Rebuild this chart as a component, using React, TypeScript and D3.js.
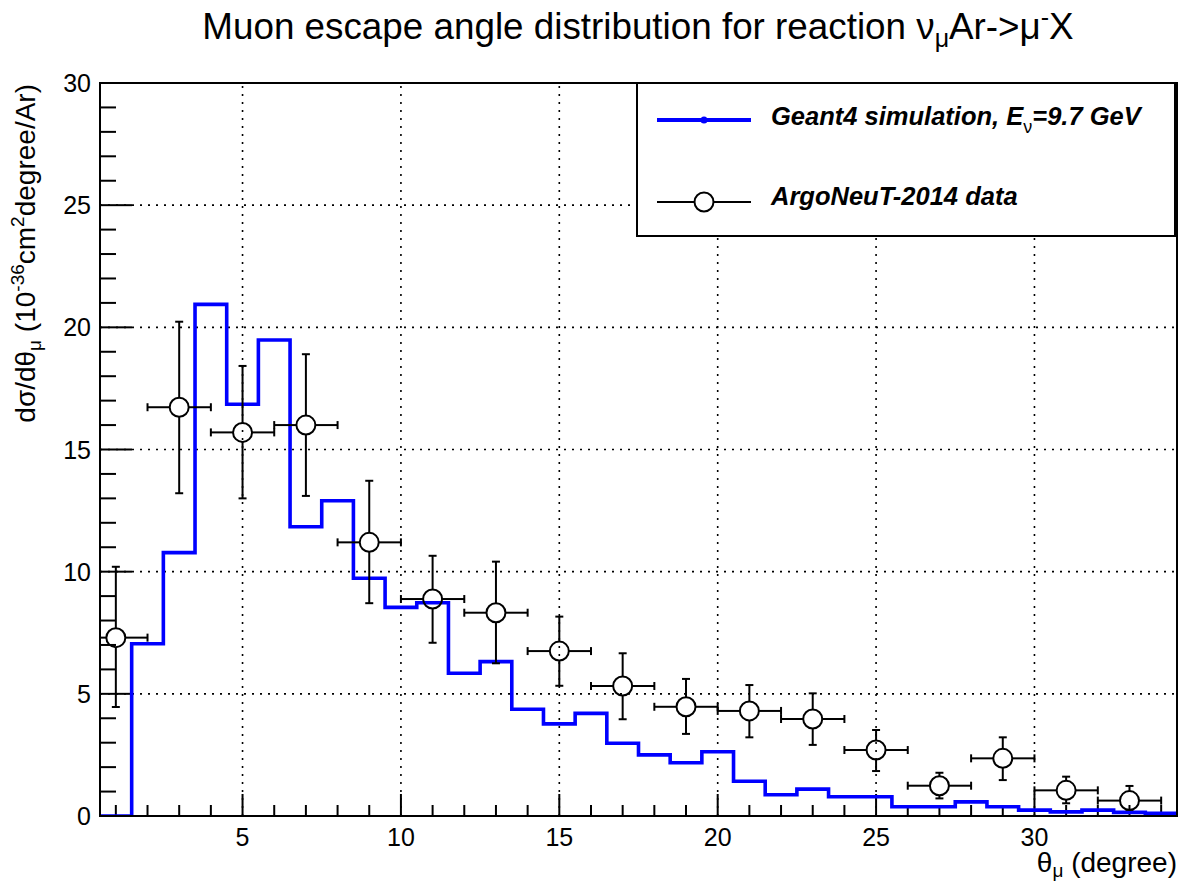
import React from 'react';
import * as d3 from 'd3';

// Geant4 histogram, one bin per degree (bin centres)
const simTheta = [1, 2, 3, 4, 5, 6, 7, 8, 9, 10, 11, 12, 13, 14, 15, 16, 17, 18, 19, 20, 21, 22, 23, 24, 25, 26, 27, 28, 29, 30, 31, 32, 33, 34];
const simValue = [0, 7.05, 10.78, 20.94, 16.85, 19.48, 11.84, 12.9, 9.73, 8.54, 8.73, 5.84, 6.32, 4.37, 3.77, 4.2, 2.98, 2.5, 2.18, 2.63, 1.42, 0.87, 1.1, 0.79, 0.79, 0.38, 0.38, 0.58, 0.38, 0.24, 0.17, 0.24, 0.15, 0.11];

// ArgoNeuT-2014 points
const dataTheta = [1, 3, 5, 7, 9, 11, 13, 15, 17, 19, 21, 23, 25, 27, 29, 31, 33];
const dataValue = [7.3, 16.73, 15.7, 16.0, 11.2, 8.88, 8.32, 6.75, 5.32, 4.47, 4.3, 3.97, 2.7, 1.24, 2.36, 1.05, 0.63];
const dataLow = [4.46, 13.21, 13.0, 13.1, 8.71, 7.09, 6.25, 5.33, 3.96, 3.36, 3.22, 2.91, 1.84, 0.72, 1.47, 0.52, 0.25];
const dataHigh = [10.2, 20.23, 18.42, 18.9, 13.72, 10.65, 10.41, 8.16, 6.66, 5.61, 5.36, 5.02, 3.52, 1.77, 3.22, 1.61, 1.23];
const thetaErr = 1;

const xMajor = [5, 10, 15, 20, 25, 30];
const yMajor = [0, 5, 10, 15, 20, 25, 30];

const W = 1178;
const H = 882;
const FONT = '"Liberation Sans", Arial, Helvetica, sans-serif';

const App = () => {
  const left = 100, right = 1177, top = 83, bottom = 816;

  const x = d3.scaleLinear().domain([0.5, 34.5]).range([left, right]);
  const y = d3.scaleLinear().domain([0, 30]).range([bottom, top]);

  const xMinor = d3.range(1, 35).filter(v => v % 5 !== 0);
  const yMinor = d3.range(1, 30).filter(v => v % 5 !== 0);

  const histPts: [number, number][] = [[0.5, 0]];
  simTheta.forEach((t, i) => {
    histPts.push([t - 0.5, simValue[i]]);
    histPts.push([t + 0.5, simValue[i]]);
  });
  const histLine = d3.line<[number, number]>().x(d => x(d[0])).y(d => y(d[1]));

  const r = 9.5;
  const cap = 4;

  return (
    <svg width={W} height={H} style={{ position: 'absolute', left: 0, top: 0, background: '#fff' }} fontFamily={FONT}>
      <rect x={0} y={0} width={W} height={H} fill="#fff" />
      <defs>
        <clipPath id="frame-clip">
          <rect x={left} y={top} width={right - left} height={bottom - top} />
        </clipPath>
      </defs>

      {/* grid */}
      <g stroke="#000" strokeWidth={1.6} strokeDasharray="2,6">
        {xMajor.map(v => (
          <line key={`gx-${v}`} x1={x(v)} x2={x(v)} y1={bottom} y2={top} />
        ))}
        {yMajor.filter(v => v > 0 && v < 30).map(v => (
          <line key={`gy-${v}`} x1={left} x2={right} y1={y(v)} y2={y(v)} />
        ))}
      </g>

      {/* ticks */}
      <g stroke="#000" strokeWidth={2}>
        {xMajor.map(v => <line key={`xt-${v}`} x1={x(v)} x2={x(v)} y1={bottom} y2={bottom - 22} />)}
        {xMinor.map(v => <line key={`xm-${v}`} x1={x(v)} x2={x(v)} y1={bottom} y2={bottom - 11} />)}
        {yMajor.map(v => <line key={`yt-${v}`} x1={left} x2={left + 32} y1={y(v)} y2={y(v)} />)}
        {yMinor.map(v => <line key={`ym-${v}`} x1={left} x2={left + 16} y1={y(v)} y2={y(v)} />)}
      </g>

      {/* histogram */}
      <path d={histLine(histPts) || ''} fill="none" stroke="#0000ff" strokeWidth={3.6} clipPath="url(#frame-clip)" />

      {/* data points */}
      <g stroke="#000" strokeWidth={2} fill="none" clipPath="url(#frame-clip)">
        {dataTheta.map((t, i) => {
          const cx = x(t);
          const cy = y(dataValue[i]);
          const yHi = y(dataHigh[i]);
          const yLo = y(dataLow[i]);
          const xL = x(t - thetaErr);
          const xR = x(t + thetaErr);
          return (
            <g key={`pt-${t}`}>
              {cy - r > yHi && <line x1={cx} x2={cx} y1={yHi} y2={cy - r} />}
              {yLo > cy + r && <line x1={cx} x2={cx} y1={cy + r} y2={yLo} />}
              <line x1={cx - cap} x2={cx + cap} y1={yHi} y2={yHi} />
              <line x1={cx - cap} x2={cx + cap} y1={yLo} y2={yLo} />
              <line x1={xL} x2={cx - r} y1={cy} y2={cy} />
              <line x1={cx + r} x2={xR} y1={cy} y2={cy} />
              <line x1={xL} x2={xL} y1={cy - cap} y2={cy + cap} />
              <line x1={xR} x2={xR} y1={cy - cap} y2={cy + cap} />
              <circle cx={cx} cy={cy} r={r} />
            </g>
          );
        })}
      </g>

      {/* frame */}
      <rect x={left} y={top} width={right - left} height={bottom - top} fill="none" stroke="#000" strokeWidth={2} />

      {/* tick labels */}
      <g fontSize={25} fill="#000">
        {xMajor.map(v => (
          <text key={`xl-${v}`} x={x(v)} y={846} textAnchor="middle">{v}</text>
        ))}
        {yMajor.map(v => (
          <text key={`yl-${v}`} x={91} y={y(v)} dy="0.36em" textAnchor="end">{v}</text>
        ))}
      </g>

      {/* axis titles */}
      <text x={right} y={872} textAnchor="end" fontSize={28}>
        θ<tspan fontSize={19} dy={5}>μ</tspan><tspan dy={-5}> (degree)</tspan>
      </text>
      <text transform={`translate(35, ${top + 1}) rotate(-90)`} textAnchor="end" fontSize={28}>
        dσ/dθ<tspan fontSize={19} dy={6}>μ</tspan>
        <tspan dy={-6}> (10</tspan><tspan fontSize={19} dy={-11}>-36</tspan>
        <tspan dy={11}>cm</tspan><tspan fontSize={19} dy={-11}>2</tspan>
        <tspan dy={11}>degree/Ar)</tspan>
      </text>

      {/* title */}
      <text x={638} y={39} textAnchor="middle" fontSize={36.8}>
        Muon escape angle distribution for reaction ν<tspan fontSize={25} dy={8}>μ</tspan>
        <tspan dy={-8}>{'Ar->μ'}</tspan><tspan fontSize={25} dy={-13}>-</tspan>
        <tspan dy={13}>X</tspan>
      </text>

      {/* legend */}
      <g>
        <rect x={637} y={83} width={538} height={153} fill="#fff" stroke="#000" strokeWidth={2} />
        <line x1={657} x2={751} y1={120} y2={120} stroke="#0000ff" strokeWidth={4} />
        <circle cx={704} cy={120} r={3.5} fill="#0000ff" />
        <text x={771} y={125} fontSize={25.5} fontWeight="bold" fontStyle="italic">
          Geant4 simulation, E<tspan fontSize={18} dy={8} fontWeight="normal" fontStyle="normal">ν</tspan>
          <tspan dy={-8}>=9.7 GeV</tspan>
        </text>
        <line x1={657} x2={694.5} y1={202} y2={202} stroke="#000" strokeWidth={2} />
        <line x1={713.5} x2={751} y1={202} y2={202} stroke="#000" strokeWidth={2} />
        <circle cx={704} cy={202} r={r} fill="none" stroke="#000" strokeWidth={2} />
        <text x={771} y={205} fontSize={25.5} fontWeight="bold" fontStyle="italic">ArgoNeuT-2014 data</text>
      </g>
    </svg>
  );
};

export default App;
